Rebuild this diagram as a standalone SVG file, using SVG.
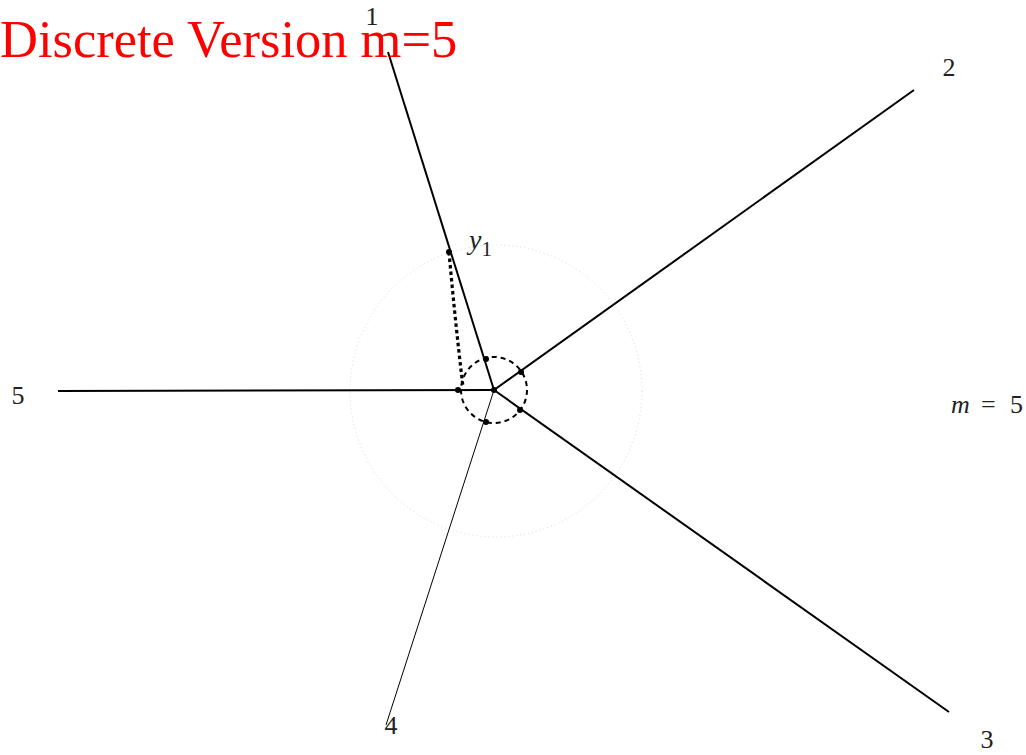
<svg xmlns="http://www.w3.org/2000/svg" width="1026" height="755" viewBox="0 0 1026 755">
<style>
.lbl{font-family:"Liberation Serif","Times New Roman",serif;font-size:26px;fill:#222;}
.it{font-style:italic;}
.edge{stroke:#000;stroke-width:2;fill:none;}
.thin{stroke:#000;stroke-width:1;fill:none;}
.pt{fill:#000;}
</style>
<rect width="1026" height="755" fill="#fff"/>
<g id="outer-circle"><circle cx="496" cy="391" r="146" fill="none" stroke="#d8d8d8" stroke-width="1" stroke-dasharray="1,3"/></g>
<g id="connectors">
<line class="edge" x1="494" y1="390" x2="388" y2="52"/>
<line class="edge" x1="494" y1="390" x2="914" y2="90"/>
<line class="edge" x1="494" y1="390" x2="949" y2="712"/>
<line class="thin" x1="494" y1="390" x2="386" y2="725"/>
<line class="edge" x1="494" y1="390" x2="58" y2="391"/>
<path d="M449 252 Q455 320 463 387" fill="none" stroke="#000" stroke-width="3.2" stroke-dasharray="3.5,3"/>
</g>
<g id="inner-circle"><circle cx="494" cy="390" r="33" fill="none" stroke="#000" stroke-width="2" stroke-dasharray="5,4"/></g>
<g id="points">
<circle class="pt" cx="494" cy="390" r="3"/>
<circle class="pt" cx="486" cy="359" r="3"/>
<circle class="pt" cx="521" cy="372" r="3"/>
<circle class="pt" cx="520" cy="410" r="3"/>
<circle class="pt" cx="486" cy="422" r="3"/>
<circle class="pt" cx="458" cy="390" r="3"/>
<circle class="pt" cx="449" cy="252" r="3"/>
</g>
<g id="labels">
<text class="lbl" x="372" y="25" text-anchor="middle">1</text>
<text class="lbl" x="949" y="76" text-anchor="middle">2</text>
<text class="lbl" x="987" y="748" text-anchor="middle">3</text>
<text class="lbl" x="391" y="734" text-anchor="middle">4</text>
<text class="lbl" x="18" y="404" text-anchor="middle">5</text>
<text class="lbl" x="469" y="249"><tspan class="it" font-size="28">y</tspan><tspan font-size="21" dy="7">1</tspan></text>
<text class="lbl" x="951" y="413"><tspan class="it">m</tspan><tspan x="981">=</tspan><tspan x="1010">5</tspan></text>
</g>
<g id="title"><text x="0" y="57" font-family="Liberation Serif,'Times New Roman',serif" font-size="52.5" fill="#f00">Discrete Version m=5</text></g>
</svg>
